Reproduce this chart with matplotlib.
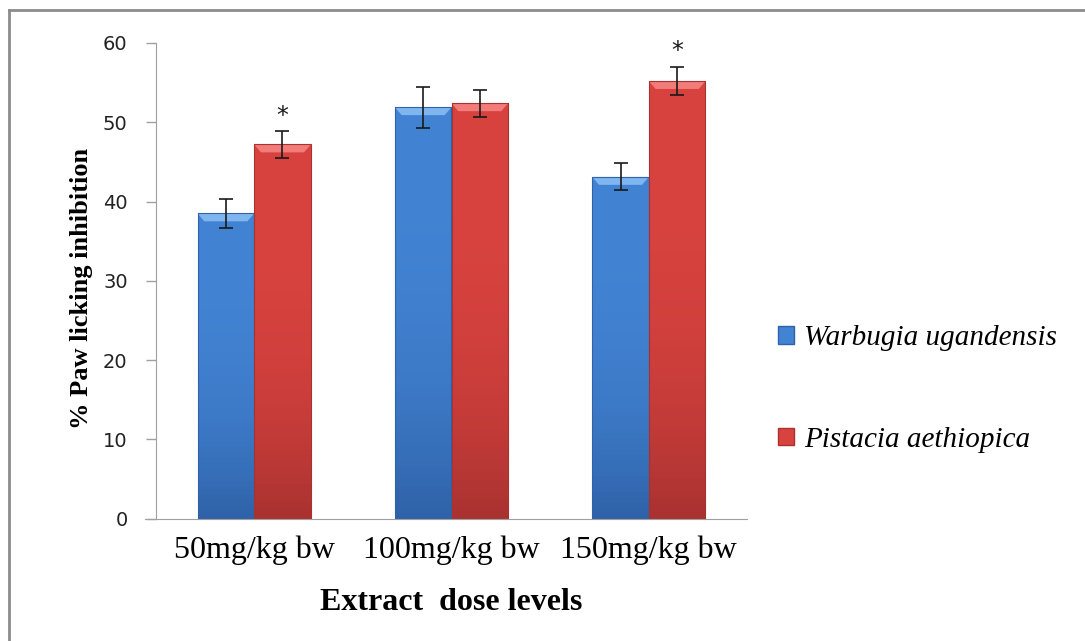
import numpy as np
import matplotlib.pyplot as plt
from matplotlib.patches import Patch, Polygon
from matplotlib.lines import Line2D

doses = ['50mg/kg bw', '100mg/kg bw', '150mg/kg bw']
warbugia = [38.5, 51.9, 43.1]
warbugia_err = [1.85, 2.6, 1.7]
pistacia = [47.2, 52.4, 55.2]
pistacia_err = [1.65, 1.7, 1.8]
significant = [True, False, True]  # asterisk above Pistacia bar

series = [
    ('Warbugia ugandensis', warbugia, warbugia_err, '#4283d3', '#2f62a8', '#7fb6f0'),
    ('Pistacia aethiopica', pistacia, pistacia_err, '#d9433f', '#a93230', '#f27c79'),
]

fig = plt.figure(figsize=(10.85, 6.41), dpi=100)
W, H = 1085, 641
ax = fig.add_axes([155.5 / W, 1 - 518.5 / H, 592 / W, (518.5 - 43) / H])

# outer frame (top and left only visible)
fig.add_artist(Line2D([9 / W, 9 / W], [0, 1 - 10 / H], color='#8c8c8c', lw=2))
fig.add_artist(Line2D([9 / W, 1], [1 - 10 / H, 1 - 10 / H], color='#8c8c8c', lw=2))

x = np.arange(len(doses))
width = 0.287
handles = []
for i, (name, vals, errs, main, dark, light) in enumerate(series):
    pos = x + (i - 0.5) * width
    bars = ax.bar(pos, vals, width, color=main, edgecolor='none', zorder=2)
    for b in bars:
        bx, bw, bh = b.get_x(), b.get_width(), b.get_height()
        # vertical shading, darker towards the base
        grad = np.linspace(0, 1, 64)[:, None]
        c1 = np.array(plt.matplotlib.colors.to_rgb(main))
        c2 = np.array(plt.matplotlib.colors.to_rgb(dark))
        img = c1 * (1 - grad[..., None] ** 3) + c2 * grad[..., None] ** 3
        im = ax.imshow(img, extent=[bx, bx + bw, 0, bh], aspect='auto',
                       origin='upper', zorder=2)
        im.set_clip_path(b)
        # top bevel
        bev = 1.0
        inset = bw * 0.12
        ax.add_patch(Polygon([[bx, bh], [bx + bw, bh], [bx + bw - inset, bh - bev],
                              [bx + inset, bh - bev]], closed=True,
                             facecolor=light, edgecolor='none', zorder=3))
        ax.add_patch(plt.Rectangle((bx, 0), bw, bh, fill=False,
                                   edgecolor=dark, lw=0.8, zorder=3))
    ax.errorbar(pos, vals, yerr=errs, fmt='none', ecolor='#1a1a1a',
                elinewidth=1.2, capsize=5, capthick=1.2, zorder=5)
    handles.append(Patch(facecolor=main, edgecolor=dark, label=name))

for j, sig in enumerate(significant):
    if sig:
        ax.text(x[j] + 0.5 * width, pistacia[j] + pistacia_err[j] + 1.1, '*',
                ha='center', va='baseline', fontsize=17, color='#1a1a1a',
                clip_on=False, zorder=6)

ax.set_xlim(-0.5, 2.5)
ax.set_ylim(0, 60)
ax.set_yticks(range(0, 61, 10))
ax.set_xticks(x)
ax.set_xticklabels(doses, family='Liberation Serif', fontsize=23)
ax.tick_params(axis='x', length=0, pad=12)
ax.tick_params(axis='y', direction='out', length=7, width=1, color='#a0a0a0',
               labelsize=14, pad=13, labelcolor='#222222')
for lab in ax.get_yticklabels():
    lab.set_family('DejaVu Sans')
for s in ['top', 'right']:
    ax.spines[s].set_visible(False)
ax.spines['left'].set_color('#a0a0a0')
ax.spines['bottom'].set_color('#a0a0a0')
ax.spines['bottom'].set_bounds(-0.5 - 10 / 197.3, 2.5)

fig.text(82 / W, 1 - 288 / H, '% Paw licking inhibition', rotation=90,
         ha='center', va='center', family='Liberation Serif',
         fontweight='bold', fontsize=19)
fig.text(451.5 / W, 1 - 610 / H, 'Extract  dose levels', ha='center',
         va='baseline', family='Liberation Serif', fontweight='bold', fontsize=23)

leg = fig.legend(handles=handles, loc='center left',
                 bbox_to_anchor=(752 / W, 1 - 389 / H), frameon=False,
                 prop={'family': 'Liberation Serif', 'style': 'italic', 'size': 21},
                 handlelength=0.55, handleheight=0.55, handletextpad=0.35,
                 labelspacing=2.6)

fig.savefig('out.png', dpi=100)
